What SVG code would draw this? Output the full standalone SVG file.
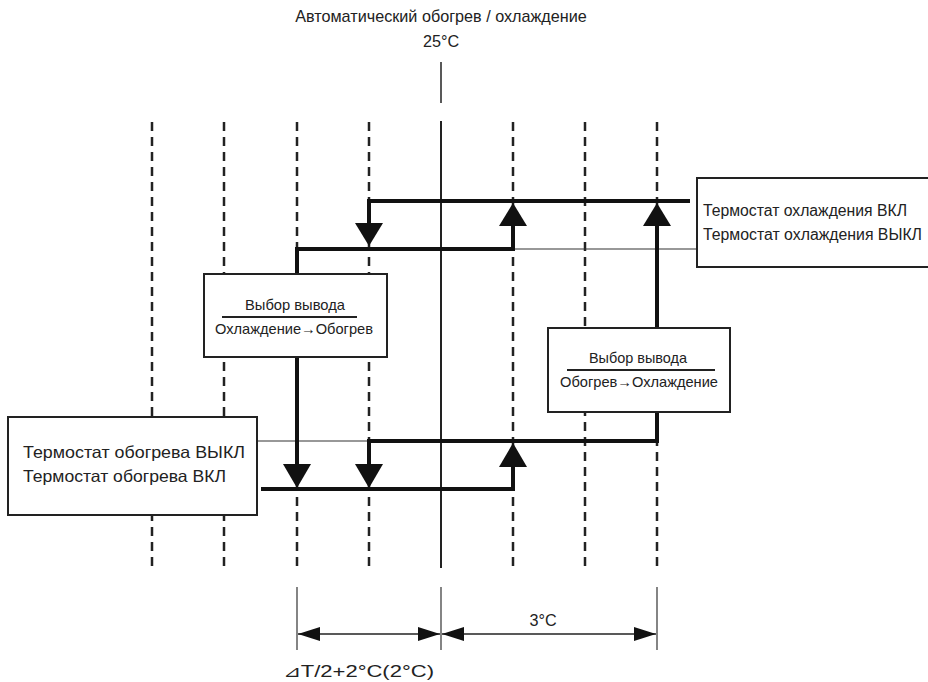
<svg xmlns="http://www.w3.org/2000/svg" width="928" height="682" viewBox="0 0 928 682">
<defs>
<style>
text{font-family:"Liberation Sans",Arial,sans-serif;fill:#222}
.t{font-size:16.2px}
.lbl{font-size:16.5px}
.lbl2{font-size:16px}
.sm{font-size:15px}
.dash{stroke:#222;stroke-width:2.5;stroke-dasharray:9 6;fill:none}
.thick{stroke:#111;stroke-width:4;fill:none}
.thin{stroke:#333;stroke-width:1.2;fill:none}
.box{fill:#fff;stroke:#222;stroke-width:2}
.ah{fill:#111}
</style>
<marker id="dimArrow" viewBox="0 0 22 14" refX="22" refY="7" markerWidth="22" markerHeight="14" markerUnits="userSpaceOnUse" orient="auto-start-reverse">
<path d="M0,0 L22,7 L0,14 Z" fill="#111"/>
</marker>
</defs>
<rect width="928" height="682" fill="#fff"/>
<text class="t" x="441" y="22" text-anchor="middle">Автоматический обогрев / охлаждение</text>
<text class="t" x="441" y="47" text-anchor="middle">25°C</text>
<g id="grid">
<line x1="441" y1="62" x2="441" y2="103" stroke="#222" stroke-width="1.5"/>
<line x1="441" y1="121" x2="441" y2="568" stroke="#222" stroke-width="2"/>
<line class="dash" x1="152" y1="122" x2="152" y2="570"/>
<line class="dash" x1="224" y1="122" x2="224" y2="570"/>
<line class="dash" x1="297" y1="122" x2="297" y2="570"/>
<line class="dash" x1="369" y1="122" x2="369" y2="570"/>
<line class="dash" x1="513" y1="122" x2="513" y2="570"/>
<line class="dash" x1="585" y1="122" x2="585" y2="570"/>
<line class="dash" x1="657" y1="122" x2="657" y2="570"/>
</g>
<g id="connectors">
<line class="thin" x1="513" y1="249" x2="697" y2="249"/>
<line class="thin" x1="257" y1="441" x2="369" y2="441"/>
<polyline class="thick" points="690,201 369,201 369,224"/>
<polyline class="thick" points="297,466 297,249 513,249 513,226"/>
<polyline class="thick" points="657,226 657,441 369,441 369,464"/>
<polyline class="thick" points="261,489 513,489 513,466"/>
<path class="ah" d="M355,223 L383,223 L369,246 Z"/>
<path class="ah" d="M499,226 L527,226 L513,203 Z"/>
<path class="ah" d="M643,226 L671,226 L657,203 Z"/>
<path class="ah" d="M283,464 L311,464 L297,488 Z"/>
<path class="ah" d="M355,464 L383,464 L369,488 Z"/>
<path class="ah" d="M499,467 L527,467 L513,443 Z"/>
</g>
<g id="box-cool-on-off">
<rect class="box" x="697" y="178" width="240" height="89"/>
<text class="lbl2" x="703" y="216" textLength="204" lengthAdjust="spacingAndGlyphs">Термостат охлаждения ВКЛ</text>
<text class="lbl2" x="703" y="240" textLength="219" lengthAdjust="spacingAndGlyphs">Термостат охлаждения ВЫКЛ</text>
</g>
<g id="box-cool-to-heat">
<rect class="box" x="204" y="274" width="183" height="83"/>
<text class="sm" x="295" y="310" text-anchor="middle" textLength="100" lengthAdjust="spacingAndGlyphs">Выбор вывода</text>
<line x1="222" y1="317" x2="357" y2="317" stroke="#222" stroke-width="2"/>
<text class="sm" x="294" y="334" text-anchor="middle" textLength="158" lengthAdjust="spacingAndGlyphs">Охлаждение→Обогрев</text>
</g>
<g id="box-heat-to-cool">
<rect class="box" x="548" y="328" width="182" height="84"/>
<text class="sm" x="638" y="363" text-anchor="middle" textLength="98" lengthAdjust="spacingAndGlyphs">Выбор вывода</text>
<line x1="567" y1="370" x2="715" y2="370" stroke="#222" stroke-width="2"/>
<text class="sm" x="639" y="387" text-anchor="middle" textLength="158" lengthAdjust="spacingAndGlyphs">Обогрев→Охлаждение</text>
</g>
<g id="box-heat-on-off">
<rect class="box" x="8" y="417" width="249" height="98"/>
<text class="lbl" x="23" y="458" textLength="222" lengthAdjust="spacingAndGlyphs">Термостат обогрева ВЫКЛ</text>
<text class="lbl" x="23" y="482" textLength="203" lengthAdjust="spacingAndGlyphs">Термостат обогрева ВКЛ</text>
</g>
<g id="dimensions">
<line class="thin" x1="297" y1="587" x2="297" y2="650"/>
<line class="thin" x1="441" y1="587" x2="441" y2="650"/>
<line class="thin" x1="657" y1="587" x2="657" y2="650"/>
<line x1="298" y1="634" x2="440" y2="634" stroke="#222" stroke-width="1.5" marker-start="url(#dimArrow)" marker-end="url(#dimArrow)"/>
<line x1="442" y1="634" x2="656" y2="634" stroke="#222" stroke-width="1.5" marker-start="url(#dimArrow)" marker-end="url(#dimArrow)"/>
<text class="t" x="543" y="626" text-anchor="middle">3°C</text>
<text class="t" x="283" y="677" textLength="151" lengthAdjust="spacingAndGlyphs">⊿T/2+2°C(2°C)</text>
</g>
</svg>
